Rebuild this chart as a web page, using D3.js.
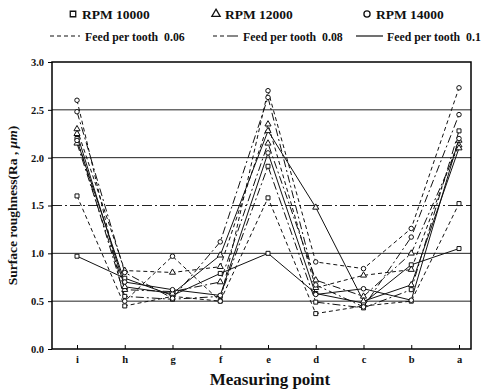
<!DOCTYPE html>
<html><head><meta charset="utf-8">
<script src="https://cdn.jsdelivr.net/npm/d3@7"></script>
<style>body{margin:0;background:#fff}svg{display:block}text{font-family:"Liberation Serif","Times New Roman",serif;font-weight:bold;fill:#111}</style>
</head><body>
<svg id="c" width="483" height="392"></svg>
<script>
const points = ["i","h","g","f","e","d","c","b","a"];
const yTicks = [0.0,0.5,1.0,1.5,2.0,2.5,3.0];
const rpmLabels = ["RPM 10000","RPM 12000","RPM 14000"];
const feedLabels = ["Feed per tooth  0.06","Feed per tooth  0.08","Feed per tooth  0.1"];
// series: [rpmIndex, feedIndex, values]
const s10_006 = [1.60,0.45,0.55,0.50,1.58,0.37,0.45,0.50,1.52];
const s10_008 = [2.20,0.55,0.52,0.55,1.91,0.49,0.43,0.62,2.28];
const s10_010 = [0.97,0.74,0.56,0.79,1.00,0.58,0.48,0.88,1.05];
const s12_006 = [2.30,0.82,0.80,0.86,2.35,0.64,0.77,0.83,2.18];
const s12_008 = [2.15,0.62,0.60,0.70,2.15,0.72,0.55,1.00,2.13];
const s12_010 = [2.25,0.65,0.58,0.98,2.28,1.48,0.50,0.67,2.10];
const s14_006 = [2.60,0.50,0.97,0.50,2.70,0.91,0.84,1.26,2.73];
const s14_008 = [2.48,0.80,0.53,1.12,2.63,0.67,0.44,1.17,2.45];
const s14_010 = [2.18,0.70,0.62,0.56,2.05,0.57,0.63,0.51,2.20];
const series = [
  [0,0,s10_006],[0,1,s10_008],[0,2,s10_010],
  [1,0,s12_006],[1,1,s12_008],[1,2,s12_010],
  [2,0,s14_006],[2,1,s14_008],[2,2,s14_010]
];
const dashes = ["4,3","8,3,2,3",null];

const svg = d3.select("#c");
const L=52,R=471,T=62,B=349;
const x = d3.scaleLinear().domain([0,8]).range([77,459]);
const y = d3.scaleLinear().domain([0,3]).range([B,T]);

// gridlines
const gridStyles = {0.5:null,1.0:null,1.5:"10,3,2,3",2.0:null,2.5:null};
[0.5,1.0,1.5,2.0,2.5].forEach(v=>{
  svg.append("line").attr("x1",L).attr("x2",R).attr("y1",y(v)).attr("y2",y(v))
    .attr("stroke","#222").attr("stroke-width",1).attr("stroke-dasharray",gridStyles[v]);
});

// axes
const yAxis = d3.axisLeft(y).tickValues(yTicks).tickFormat(d3.format(".1f")).tickSize(4);
const gy = svg.append("g").attr("transform",`translate(${L},0)`).call(yAxis);
gy.select(".domain").remove();
gy.selectAll("text").style("font-size","10.5px").attr("dx","-1");
const xAxis = d3.axisBottom(x).tickValues(d3.range(9)).tickFormat(i=>points[i]).tickSize(-4).tickPadding(7);
const gx = svg.append("g").attr("transform",`translate(0,${B})`).call(xAxis);
gx.select(".domain").remove();
gx.selectAll("text").style("font-size","10.5px");
svg.append("rect").attr("x",L).attr("y",T).attr("width",R-L).attr("height",B-T)
  .attr("fill","none").attr("stroke","#000").attr("stroke-width",1.5);

// lines
const line = d3.line().x((d,i)=>x(i)).y(d=>y(d));
series.forEach(([r,f,vals])=>{
  svg.append("path").datum(vals).attr("d",line).attr("fill","none")
    .attr("stroke","#111").attr("stroke-width",1).attr("stroke-dasharray",dashes[f]);
});
// markers
const sym = [d3.symbolSquare,d3.symbolTriangle,d3.symbolCircle];
series.forEach(([r,f,vals])=>{
  svg.append("g").selectAll("path").data(vals).join("path")
    .attr("transform",(d,i)=>`translate(${x(i)},${y(d)})`)
    .attr("d",d3.symbol(sym[r],16)).attr("fill","#fff").attr("stroke","#111").attr("stroke-width",1);
});

// legend row 1
const lx=[73,216,367];
rpmLabels.forEach((t,i)=>{
  svg.append("path").attr("transform",`translate(${lx[i]},14)`).attr("d",d3.symbol(sym[i],30))
    .attr("fill","#fff").attr("stroke","#111").attr("stroke-width",1.3);
  svg.append("text").attr("x",lx[i]+9).attr("y",18.5).style("font-size","13.5px").text(t);
});
// legend row 2
const fx=[50,213,356], fw=[30,25,27], tx=[85,243,387];
const legDash=["4,3","4,3,4,3,11,0",null];
feedLabels.forEach((t,i)=>{
  svg.append("line").attr("x1",fx[i]).attr("x2",fx[i]+fw[i]).attr("y1",36).attr("y2",36)
    .attr("stroke","#111").attr("stroke-width",1.2).attr("stroke-dasharray",legDash[i]);
  svg.append("text").attr("x",tx[i]).attr("y",40.5).style("font-size","11.8px").attr("xml:space","preserve").text(t);
});

// titles
svg.append("text").attr("x",270).attr("y",385).attr("text-anchor","middle").style("font-size","17px").text("Measuring point");
const yt = svg.append("text").attr("transform",`translate(17,${(T+B)/2}) rotate(-90)`).attr("text-anchor","middle").style("font-size","13.5px");
yt.append("tspan").text("Surface roughness(Ra , ");
yt.append("tspan").style("font-style","italic").text("μm");
yt.append("tspan").text(")");
</script>
</body></html>
